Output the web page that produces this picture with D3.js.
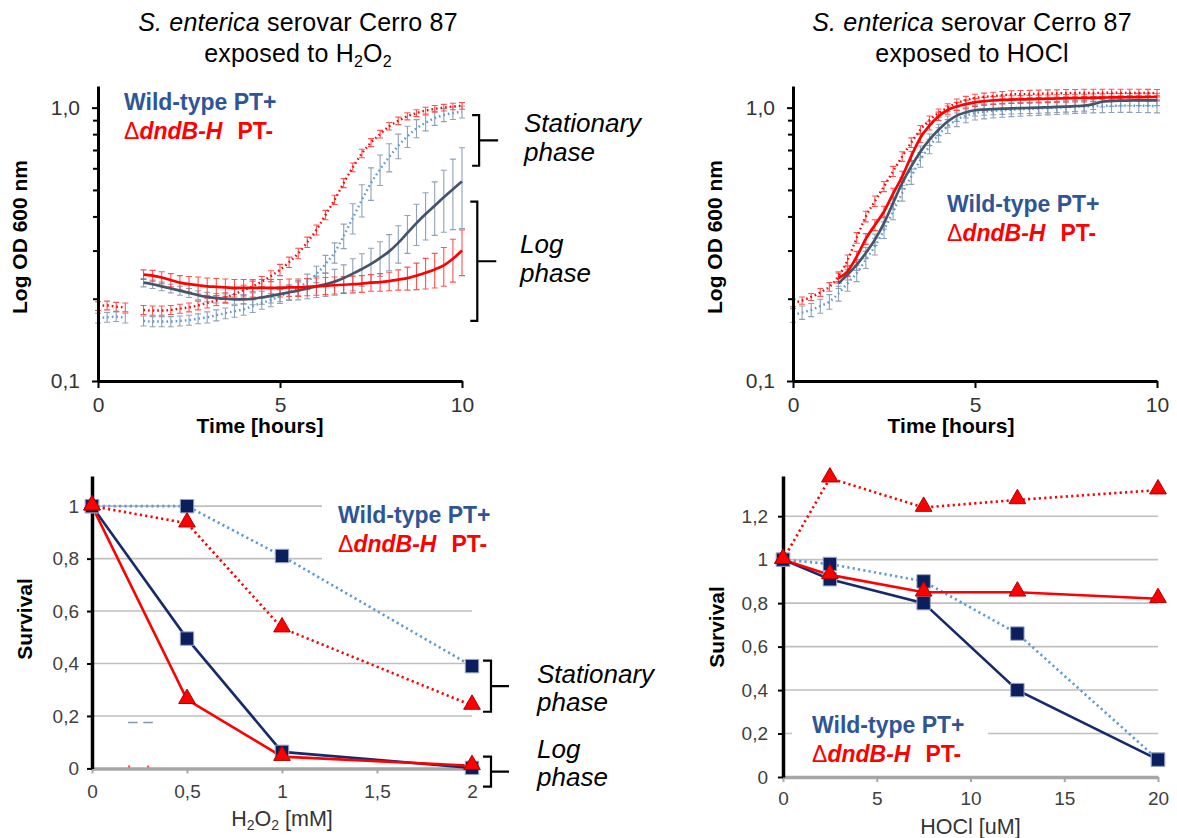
<!DOCTYPE html>
<html><head><meta charset="utf-8">
<script src="https://cdn.jsdelivr.net/npm/d3@7"></script>
<style>
body{margin:0;background:#fff}
svg{display:block}
text{font-family:"Liberation Sans",Arial,Helvetica,sans-serif}
</style>
</head><body>
<svg id="c" width="1177" height="838"></svg>
<script>
// ---------------- DATA ----------------
const TIME = [0,0.25,0.5,0.75,1,1.25,1.5,1.75,2,2.25,2.5,2.75,3,3.25,3.5,3.75,4,4.25,4.5,4.75,5,5.25,5.5,5.75,6,6.25,6.5,6.75,7,7.25,7.5,7.75,8,8.25,8.5,8.75,9,9.25,9.5,9.75,10];

// H2O2 growth curves (OD600)
const h2o2MutStat = [0.188,0.189,0.187,0.186,null,0.182,0.181,0.181,0.182,0.184,0.186,0.189,0.193,0.197,0.202,0.208,0.215,0.222,0.231,0.242,0.255,0.272,0.293,0.322,0.357,0.405,0.46,0.53,0.605,0.68,0.745,0.80,0.855,0.895,0.93,0.955,0.975,0.99,1.0,1.01,1.015];
const h2o2MutStatErr = [0.007,0.007,0.007,0.007,null,0.007,0.007,0.007,0.007,0.007,0.007,0.007,0.008,0.008,0.008,0.009,0.009,0.01,0.01,0.011,0.012,0.012,0.013,0.014,0.015,0.016,0.018,0.02,0.022,0.024,0.025,0.026,0.027,0.028,0.028,0.028,0.028,0.028,0.028,0.028,0.028];
const h2o2WtStat = [0.170,0.171,0.172,0.170,null,0.166,0.165,0.165,0.165,0.166,0.167,0.169,0.171,0.174,0.177,0.180,0.183,0.188,0.193,0.198,0.204,0.211,0.219,0.231,0.246,0.268,0.295,0.34,0.395,0.46,0.53,0.595,0.66,0.725,0.785,0.84,0.88,0.915,0.94,0.955,0.965];
const h2o2WtStatErr = [0.007,0.007,0.007,0.007,null,0.007,0.007,0.007,0.007,0.007,0.007,0.007,0.008,0.008,0.008,0.009,0.009,0.01,0.01,0.011,0.012,0.013,0.014,0.015,0.017,0.02,0.025,0.035,0.05,0.062,0.072,0.076,0.078,0.075,0.07,0.064,0.058,0.054,0.051,0.05,0.049];
const h2o2WtLog = [null,null,null,null,null,0.229,0.226,0.222,0.218,0.214,0.210,0.206,0.203,0.201,0.200,0.199,0.199,0.200,0.202,0.205,0.208,0.211,0.214,0.218,0.222,0.226,0.231,0.238,0.247,0.257,0.268,0.282,0.298,0.320,0.348,0.378,0.408,0.438,0.47,0.503,0.537];
const h2o2WtLogErr = [null,null,null,null,null,0.008,0.008,0.008,0.008,0.008,0.008,0.008,0.008,0.008,0.008,0.008,0.008,0.01,0.011,0.012,0.013,0.014,0.016,0.018,0.02,0.022,0.025,0.028,0.033,0.035,0.038,0.041,0.045,0.05,0.055,0.065,0.08,0.097,0.12,0.145,0.176];
const h2o2MutLog = [null,null,null,null,null,0.245,0.243,0.239,0.234,0.229,0.226,0.224,0.222,0.221,0.220,0.219,0.219,0.219,0.219,0.219,0.219,0.220,0.220,0.221,0.222,0.223,0.224,0.225,0.226,0.227,0.229,0.230,0.232,0.235,0.238,0.243,0.249,0.256,0.265,0.280,0.30];
const h2o2MutLogErr = [null,null,null,null,null,0.01,0.011,0.012,0.013,0.014,0.015,0.016,0.016,0.016,0.016,0.016,0.016,0.016,0.016,0.016,0.016,0.016,0.016,0.016,0.016,0.016,0.016,0.016,0.016,0.016,0.016,0.017,0.018,0.02,0.023,0.027,0.032,0.037,0.043,0.05,0.057];

// HOCl growth curves (OD600)
const hoclMutStat = [0.193,0.197,0.203,0.211,0.221,0.241,0.277,0.334,0.40,0.455,0.515,0.585,0.663,0.745,0.83,0.90,0.956,1.0,1.04,1.065,1.085,1.095,1.103,1.11,1.118,1.12,1.122,1.124,1.126,1.128,1.13,1.13,1.132,1.132,1.133,1.133,1.133,1.132,1.132,1.131,1.13];
const hoclMutStatErr = [0.006,0.006,0.006,0.007,0.008,0.01,0.012,0.015,0.018,0.02,0.022,0.025,0.027,0.03,0.03,0.032,0.033,0.034,0.035,0.035,0.035,0.035,0.035,0.035,0.035,0.035,0.035,0.035,0.035,0.035,0.035,0.035,0.035,0.035,0.035,0.035,0.035,0.035,0.035,0.035,0.035];
const hoclWtStat = [0.174,0.178,0.182,0.188,0.195,0.209,0.228,0.248,0.278,0.311,0.357,0.417,0.487,0.56,0.645,0.722,0.796,0.854,0.904,0.935,0.956,0.966,0.973,0.978,0.983,0.986,0.99,0.993,0.997,1.0,1.004,1.008,1.011,1.013,1.015,1.016,1.017,1.017,1.016,1.015,1.013];
const hoclWtStatErr = [0.01,0.01,0.01,0.011,0.012,0.013,0.015,0.017,0.02,0.022,0.025,0.028,0.032,0.036,0.04,0.044,0.048,0.05,0.052,0.054,0.055,0.056,0.056,0.056,0.056,0.056,0.056,0.056,0.056,0.056,0.056,0.056,0.056,0.056,0.056,0.056,0.056,0.056,0.056,0.056,0.056];
const hoclWtLog = [null,null,null,null,null,0.228,0.245,0.266,0.294,0.329,0.378,0.448,0.53,0.61,0.69,0.764,0.83,0.89,0.935,0.961,0.978,0.984,0.988,0.991,0.994,0.996,0.998,1.0,1.003,1.006,1.009,1.013,1.017,1.03,1.052,1.057,1.061,1.062,1.063,1.063,1.063];
const hoclWtLogErr = [null,null,null,null,null,0.01,0.011,0.012,0.014,0.016,0.018,0.022,0.026,0.03,0.034,0.037,0.04,0.042,0.044,0.045,0.046,0.046,0.046,0.046,0.046,0.046,0.046,0.046,0.046,0.046,0.046,0.046,0.046,0.046,0.046,0.046,0.046,0.046,0.046,0.046,0.046];
const hoclMutLog = [null,null,null,null,null,0.238,0.252,0.285,0.331,0.372,0.417,0.485,0.56,0.665,0.776,0.86,0.93,0.98,1.01,1.03,1.046,1.055,1.062,1.067,1.07,1.072,1.074,1.076,1.078,1.08,1.082,1.084,1.085,1.087,1.088,1.09,1.091,1.092,1.093,1.094,1.094];
const hoclMutLogErr = [null,null,null,null,null,0.01,0.011,0.013,0.015,0.017,0.019,0.022,0.025,0.028,0.03,0.032,0.033,0.034,0.035,0.035,0.035,0.035,0.035,0.035,0.035,0.035,0.035,0.035,0.035,0.035,0.035,0.035,0.035,0.035,0.035,0.035,0.035,0.035,0.035,0.035,0.035];

// Survival after H2O2
const h2o2Conc = [0, 0.5, 1, 2];
const h2o2WtStatSurv = [1, 1, 0.81, 0.39];
const h2o2MutStatSurv = [1, 0.935, 0.535, 0.24];
const h2o2WtLogSurv = [1, 0.495, 0.063, 0.002];
const h2o2MutLogSurv = [1, 0.262, 0.045, 0.01];

// Survival after HOCl
const hoclConc = [0, 2.5, 7.5, 12.5, 20];
const hoclMutStatSurv = [1, 1.375, 1.24, 1.275, 1.32];
const hoclWtStatSurv = [1, 0.98, 0.90, 0.66, 0.08];
const hoclWtLogSurv = [1, 0.91, 0.80, 0.40, 0.08];
const hoclMutLogSurv = [1, 0.93, 0.85, 0.85, 0.82];

// Tick labels
const growthXTicks = [0, 5, 10];
const growthYMajor = [0.1, 1.0];
const growthYMinor = [0.2,0.3,0.4,0.5,0.6,0.7,0.8,0.9];
const h2o2XTicks = [0, 0.5, 1, 1.5, 2];
const h2o2YTicks = [0, 0.2, 0.4, 0.6, 0.8, 1];
const hoclXTicks = [0, 5, 10, 15, 20];
const hoclYTicks = [0, 0.2, 0.4, 0.6, 0.8, 1, 1.2];

// ---------------- STYLE ----------------
const C = {
  legendBlue: '#2F5597', red: '#FF0000', wtSolid: '#44546A', wtDotted: '#5B9BD5',
  wtErr: '#8497B0', redErr: '#FF4040', navy: '#0B1F5E', navyLine: '#172B6B',
  grid: '#BFBFBF', axisGrey: '#A6A6A6', tick: '#404040'
};
const FF = '"Liberation Sans",Arial,sans-serif';
const svg = d3.select('#c');
const comma = d => String(d).replace('.', ',');

function series(vals, errs) {
  return TIME.map((t, i) => ({t, v: vals[i], e: errs ? errs[i] : null}));
}

function legend(g, x0, y0) {
  g.append('text').attr('x', x0).attr('y', y0).attr('font-size', 23).attr('font-weight', 'bold')
    .attr('fill', C.legendBlue).text('Wild-type PT+');
  const t = g.append('text').attr('x', x0).attr('y', y0 + 29).attr('font-size', 23).attr('fill', C.red);
  t.append('tspan').text('Δ');
  t.append('tspan').attr('font-weight', 'bold').attr('font-style', 'italic').text('dndB-H');
  t.append('tspan').attr('font-weight', 'bold').attr('dx', 15).text('PT-');
}
function bracket(g, xv, yTop, yBot, armL, armR) {
  const ym = (yTop + yBot) / 2;
  g.append('path')
    .attr('d', `M${xv - armL},${yTop}H${xv}V${yBot}H${xv - armL}M${xv},${ym}H${xv + armR}`)
    .attr('fill', 'none').attr('stroke', '#000').attr('stroke-width', 2.2);
}
function italicLabel(g, x, y, s) {
  g.append('text').attr('x', x).attr('y', y).attr('font-size', 26).attr('font-style', 'italic').text(s);
}

// ---------------- GROWTH PANELS ----------------
function growthPanel(o) {
  const g = svg.append('g');
  const x = d3.scaleLinear().domain([0, 10]).range([o.x0, o.x1]);
  const y = d3.scaleLog().domain([0.1, 1.2]).range([381, 86]);

  const defs = [
    {d: series(o.wtStat, o.wtStatErr), line: C.wtDotted, err: C.wtErr, dotted: true},
    {d: series(o.mutStat, o.mutStatErr), line: C.red, err: C.redErr, dotted: true},
    {d: series(o.wtLog, o.wtLogErr), line: C.wtSolid, err: C.wtErr, dotted: false},
    {d: series(o.mutLog, o.mutLogErr), line: C.red, err: C.redErr, dotted: false}
  ];
  const cap = 3;
  defs.forEach(s => {
    g.append('g').selectAll('path').data(s.d.filter(p => p.v != null && p.e != null))
      .join('path')
      .attr('d', p => {
        const xx = x(p.t), yt = y(p.v + p.e), yb = y(Math.max(p.v - p.e, 0.1));
        return `M${xx - cap},${yt}H${xx + cap}M${xx},${yt}V${yb}M${xx - cap},${yb}H${xx + cap}`;
      })
      .attr('stroke', s.err).attr('stroke-width', 1.1).attr('fill', 'none').attr('opacity', 0.9);
  });
  const line = d3.line().defined(p => p.v != null).x(p => x(p.t)).y(p => y(p.v)).curve(d3.curveMonotoneX);
  defs.forEach(s => {
    g.append('path').datum(s.d).attr('d', line).attr('fill', 'none')
      .attr('stroke', s.line).attr('stroke-width', s.dotted ? 2.4 : 2.7)
      .attr('stroke-dasharray', s.dotted ? '1.6,3' : null);
  });

  const yAxMaj = d3.axisLeft(y).tickValues(growthYMajor).tickFormat(d => d.toFixed(1).replace('.', ','))
    .tickSize(6).tickSizeOuter(0).tickPadding(12);
  const ya = g.append('g').attr('transform', `translate(${o.x0},0)`).call(yAxMaj);
  ya.select('.domain').attr('stroke', '#000').attr('stroke-width', 3);
  ya.selectAll('.tick line').attr('stroke', '#000').attr('stroke-width', 2);
  ya.selectAll('.tick text').attr('font-size', 21).attr('fill', '#333').style('font-family', FF);
  const yAxMin = d3.axisLeft(y).tickValues(growthYMinor).tickFormat('').tickSize(5).tickSizeOuter(0);
  const ym = g.append('g').attr('transform', `translate(${o.x0},0)`).call(yAxMin);
  ym.select('.domain').remove();
  ym.selectAll('.tick line').attr('stroke', '#000').attr('stroke-width', 2);

  const xAx = d3.axisBottom(x).tickValues(growthXTicks).tickSize(7).tickSizeOuter(0).tickPadding(9);
  const xa = g.append('g').attr('transform', `translate(0,381)`).call(xAx);
  xa.select('.domain').attr('stroke', '#000').attr('stroke-width', 3);
  xa.selectAll('.tick line').attr('stroke', '#000').attr('stroke-width', 2);
  xa.selectAll('.tick text').attr('font-size', 21).attr('fill', '#333').style('font-family', FF);

  const t1 = g.append('text').attr('x', o.titleX).attr('y', 31).attr('text-anchor', 'middle')
    .attr('font-size', 25).attr('letter-spacing', 0.2);
  t1.append('tspan').attr('font-style', 'italic').text('S. enterica');
  t1.append('tspan').text(' serovar Cerro 87');
  const t2 = g.append('text').attr('x', o.titleX).attr('y', 62).attr('text-anchor', 'middle')
    .attr('font-size', 25).attr('letter-spacing', 0.2);
  o.title2(t2);

  g.append('text').attr('x', o.timeX).attr('y', 433).attr('text-anchor', 'middle')
    .attr('font-size', 21).attr('font-weight', 'bold').text('Time [hours]');
  g.append('text').attr('transform', `translate(${o.x0 - 71},237) rotate(-90)`).attr('text-anchor', 'middle')
    .attr('font-size', 21).attr('font-weight', 'bold').text('Log OD 600 nm');

  legend(g, o.legX, o.legY);
  return {g, x, y};
}

const p1 = growthPanel({
  x0: 98, x1: 462, titleX: 298, timeX: 260, legX: 124, legY: 110,
  wtStat: h2o2WtStat, wtStatErr: h2o2WtStatErr, mutStat: h2o2MutStat, mutStatErr: h2o2MutStatErr,
  wtLog: h2o2WtLog, wtLogErr: h2o2WtLogErr, mutLog: h2o2MutLog, mutLogErr: h2o2MutLogErr,
  title2: t => {
    t.append('tspan').text('exposed to H');
    t.append('tspan').attr('font-size', 16).attr('dy', 5).text('2');
    t.append('tspan').attr('dy', -5).text('O');
    t.append('tspan').attr('font-size', 16).attr('dy', 5).text('2');
  }
});
bracket(p1.g, p1.x(10.47), p1.y(0.939), p1.y(0.613), 7, 19);
bracket(p1.g, p1.x(10.42), p1.y(0.453), p1.y(0.166), 7, 19);
italicLabel(p1.g, 524, 132, 'Stationary');
italicLabel(p1.g, 524, 161, 'phase');
italicLabel(p1.g, 520, 253, 'Log');
italicLabel(p1.g, 520, 282, 'phase');

const p2 = growthPanel({
  x0: 793, x1: 1157, titleX: 972, timeX: 951, legX: 947, legY: 212,
  wtStat: hoclWtStat, wtStatErr: hoclWtStatErr, mutStat: hoclMutStat, mutStatErr: hoclMutStatErr,
  wtLog: hoclWtLog, wtLogErr: hoclWtLogErr, mutLog: hoclMutLog, mutLogErr: hoclMutLogErr,
  title2: t => { t.text('exposed to HOCl'); }
});

// ---------------- SURVIVAL PANELS ----------------
function survivalPanel(o) {
  const g = svg.append('g');
  const x = d3.scaleLinear().domain(o.xDomain).range([o.x0, o.x1]);
  const y = d3.scaleLinear().domain(o.yDomain).range([o.yBottom, o.yTop]);

  g.append('g').selectAll('line').data(o.yTicks.filter(d => d > 0)).join('line')
    .attr('x1', x(o.xDomain[0])).attr('x2', x(o.xDomain[1]))
    .attr('y1', d => y(d)).attr('y2', d => y(d))
    .attr('stroke', C.grid).attr('stroke-width', 1.6);
  if (o.legendBg) g.append('rect').attr('x', o.legendBg[0]).attr('y', o.legendBg[1])
    .attr('width', o.legendBg[2]).attr('height', o.legendBg[3]).attr('fill', '#fff');

  const xAx = d3.axisBottom(x).tickValues(o.xTicks).tickFormat(comma).tickSize(5).tickSizeOuter(0).tickPadding(o.xPad);
  const xa = g.append('g').attr('transform', `translate(0,${y(0)})`).call(xAx);
  xa.select('.domain').attr('stroke', C.axisGrey).attr('stroke-width', 3.5);
  xa.selectAll('.tick line').attr('stroke', C.axisGrey).attr('stroke-width', 2);
  xa.selectAll('.tick text').attr('font-size', 19).attr('fill', C.tick).style('font-family', FF);

  const yAx = d3.axisLeft(y).tickValues(o.yTicks).tickFormat(comma).tickSize(5).tickSizeOuter(0).tickPadding(o.yPad);
  const ya = g.append('g').attr('transform', `translate(${o.x0},0)`).call(yAx);
  ya.select('.domain').attr('stroke', '#000').attr('stroke-width', 3.5);
  ya.selectAll('.tick line').attr('stroke', '#000').attr('stroke-width', 2);
  ya.selectAll('.tick text').attr('font-size', 19).attr('fill', C.tick).style('font-family', FF);

  const mk = vals => o.conc.map((c, i) => ({c, v: vals[i]}));
  const line = d3.line().x(p => x(p.c)).y(p => y(p.v));
  const S = [
    {d: mk(o.wtStat), color: C.wtDotted, dotted: true, marker: 'sq'},
    {d: mk(o.mutStat), color: C.red, dotted: true, marker: 'tri'},
    {d: mk(o.wtLog), color: C.navyLine, dotted: false, marker: 'sq'},
    {d: mk(o.mutLog), color: C.red, dotted: false, marker: 'tri'}
  ];
  S.forEach(s => g.append('path').datum(s.d).attr('d', line).attr('fill', 'none')
    .attr('stroke', s.color).attr('stroke-width', 2.6)
    .attr('stroke-dasharray', s.dotted ? '2.2,3.2' : null));
  const sq = d3.symbol().type(d3.symbolSquare).size(180);
  const tri = d3.symbol().type(d3.symbolTriangle).size(120);
  S.filter(s => s.marker === 'sq').forEach(s => g.append('g').selectAll('path').data(s.d).join('path')
    .attr('d', sq).attr('transform', p => `translate(${x(p.c)},${y(p.v)})`)
    .attr('fill', C.navy).attr('stroke', '#9AA6C2').attr('stroke-width', 1));
  S.filter(s => s.marker === 'tri').forEach(s => g.append('g').selectAll('path').data(s.d).join('path')
    .attr('d', tri).attr('transform', p => `translate(${x(p.c)},${y(p.v) - 1})`)
    .attr('fill', C.red).attr('stroke', '#B00000').attr('stroke-width', 1));

  g.append('text').attr('transform', `translate(${o.survX},${o.survY}) rotate(-90)`).attr('text-anchor', 'middle')
    .attr('font-size', 21).attr('font-weight', 'bold').text('Survival');
  legend(g, o.legX, o.legY);
  return {g, x, y};
}

const p3 = survivalPanel({
  xDomain: [0, 2], x0: 92, x1: 472, yDomain: [0, 1.115], yBottom: 768.4, yTop: 476,
  xTicks: h2o2XTicks, yTicks: h2o2YTicks, conc: h2o2Conc, xPad: 11, yPad: 8,
  wtStat: h2o2WtStatSurv, mutStat: h2o2MutStatSurv, wtLog: h2o2WtLogSurv, mutLog: h2o2MutLogSurv,
  legendBg: [322, 494, 160, 72], survX: 32, survY: 619, legX: 338, legY: 523
});
// small stray legend remnants
p3.g.append('path').attr('d', `M${p3.x(0.19)},${p3.y(0.175)}H${p3.x(0.24)}M${p3.x(0.27)},${p3.y(0.175)}H${p3.x(0.32)}`)
  .attr('stroke', '#8497B0').attr('stroke-width', 1.5);
p3.g.append('path').attr('d', `M${p3.x(0.19)},${p3.y(0.007)}h2M${p3.x(0.29)},${p3.y(0.007)}h2`)
  .attr('stroke', '#FF4040').attr('stroke-width', 2);
const h2 = p3.g.append('text').attr('x', p3.x(1)).attr('y', 826).attr('text-anchor', 'middle').attr('font-size', 21.5).attr('fill', '#333');
h2.append('tspan').text('H');
h2.append('tspan').attr('font-size', 14).attr('dy', 4).text('2');
h2.append('tspan').attr('dy', -4).text('O');
h2.append('tspan').attr('font-size', 14).attr('dy', 4).text('2');
h2.append('tspan').attr('dy', -4).text(' [mM]');
bracket(p3.g, p3.x(2.1), p3.y(0.411), p3.y(0.216), 8, 18);
bracket(p3.g, p3.x(2.1), p3.y(0.0446), p3.y(-0.0698), 8, 18);
italicLabel(p3.g, 537, 683, 'Stationary');
italicLabel(p3.g, 537, 711, 'phase');
italicLabel(p3.g, 537, 758, 'Log');
italicLabel(p3.g, 537, 786, 'phase');

const p4 = survivalPanel({
  xDomain: [0, 20], x0: 783, x1: 1158, yDomain: [0, 1.385], yBottom: 777, yTop: 476,
  xTicks: hoclXTicks, yTicks: hoclYTicks, conc: hoclConc, xPad: 10, yPad: 10,
  wtStat: hoclWtStatSurv, mutStat: hoclMutStatSurv, wtLog: hoclWtLogSurv, mutLog: hoclMutLogSurv,
  legendBg: [792, 703, 196, 66], survX: 724, survY: 627, legX: 812, legY: 733
});
p4.g.append('text').attr('x', p4.x(10)).attr('y', 834).attr('text-anchor', 'middle').attr('font-size', 21.5)
  .attr('fill', '#333').text('HOCl [uM]');
</script>
</body></html>
